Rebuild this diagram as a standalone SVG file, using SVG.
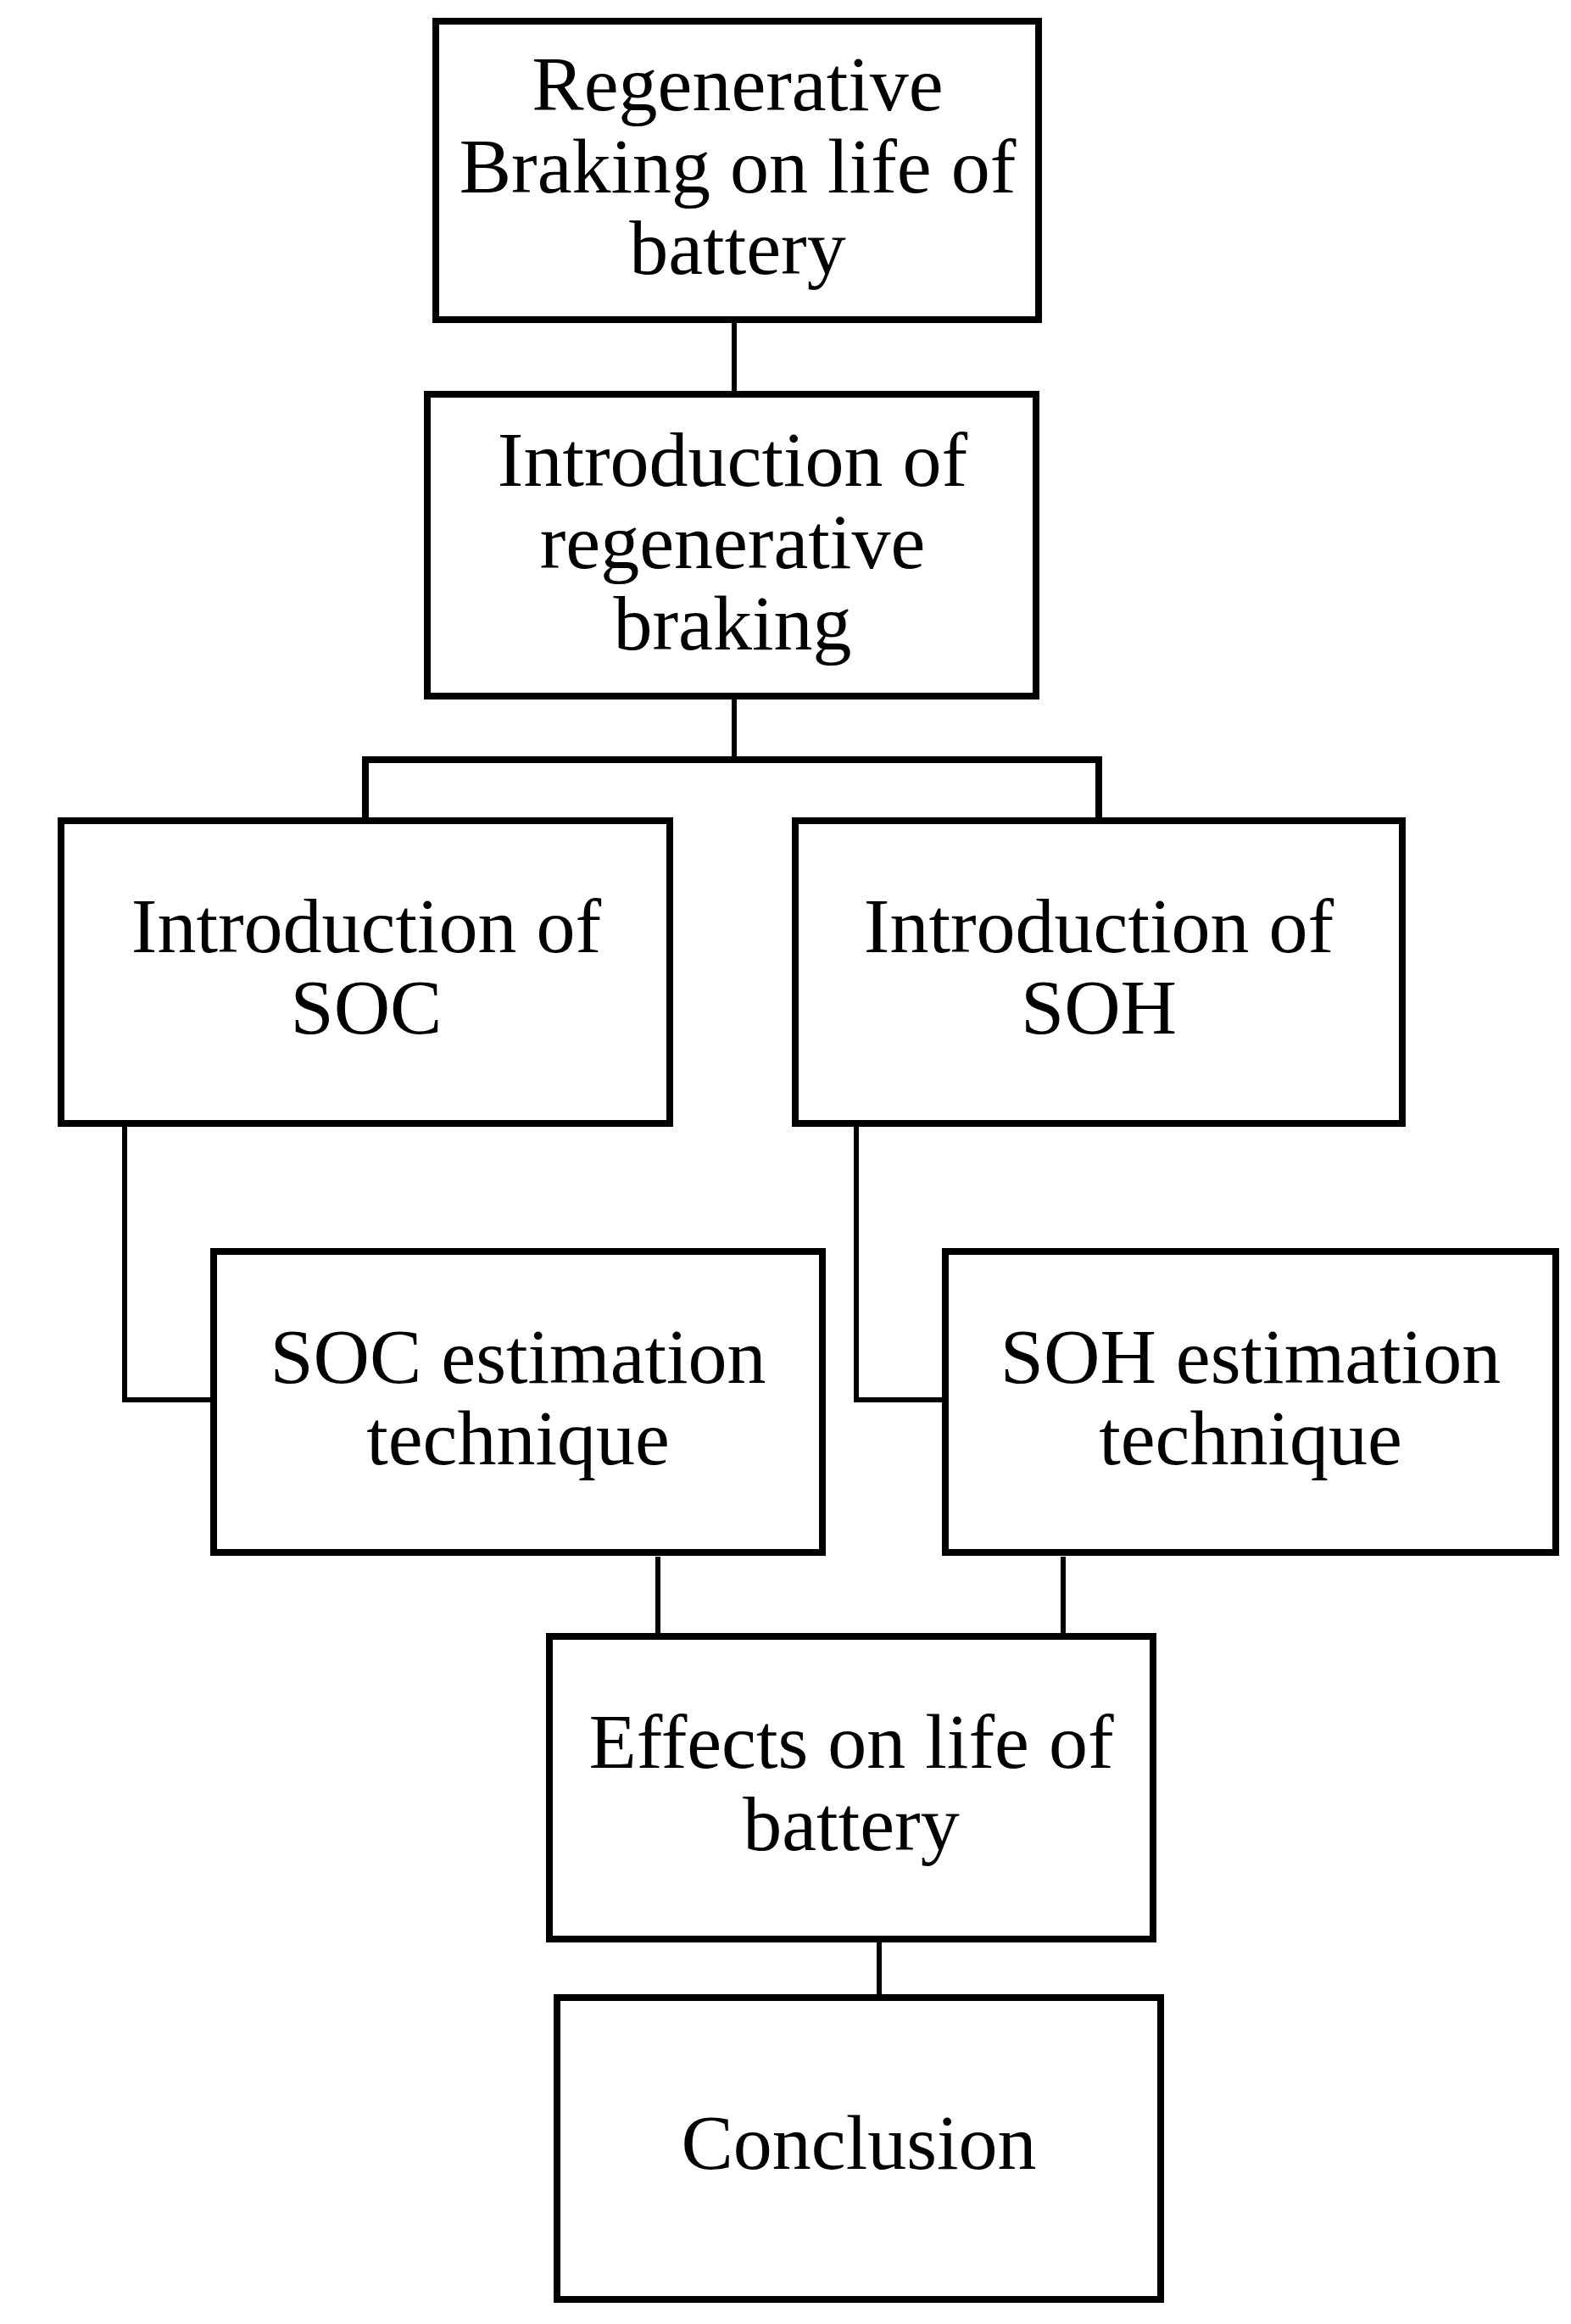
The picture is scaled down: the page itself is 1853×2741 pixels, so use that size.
<svg xmlns="http://www.w3.org/2000/svg" width="1853" height="2741" viewBox="0 0 1853 2741">
<style>
.box{fill:#fff;stroke:#000;stroke-width:8;stroke-linejoin:miter}
.lbl{font-family:"Liberation Serif","Times New Roman",serif;font-size:92px;fill:#000;text-anchor:middle}
.con{fill:none;stroke:#000;stroke-width:6}
.bar{fill:none;stroke:#000;stroke-width:8}
</style>
<rect width="1853" height="2741" fill="#fff"/>
<g id="connectors">
<line class="con" x1="866" y1="377" x2="866" y2="465"/>
<line class="con" x1="866" y1="821" x2="866" y2="896"/>
<polyline class="bar" points="431,968 431,896 1296,896 1296,968"/>
<polyline class="con" points="147,1325 147,1651 252,1651"/>
<polyline class="con" points="1010,1325 1010,1651 1115,1651"/>
<line class="con" x1="776" y1="1836" x2="776" y2="1930"/>
<line class="con" x1="1254" y1="1836" x2="1254" y2="1930"/>
<line class="con" x1="1037" y1="2287" x2="1037" y2="2370"/>
</g>
<g id="n1"><rect class="box" x="514" y="25" width="711" height="352"/>
<text class="lbl" x="870" y="130">Regenerative</text><text class="lbl" x="870" y="227">Braking on life of</text><text class="lbl" x="870" y="323">battery</text></g>
<g id="n2"><rect class="box" x="504" y="465" width="718" height="356"/>
<text class="lbl" x="864" y="573">Introduction of</text><text class="lbl" x="864" y="670">regenerative</text><text class="lbl" x="864" y="766">braking</text></g>
<g id="n3"><rect class="box" x="72" y="968" width="718" height="357"/>
<text class="lbl" x="432" y="1123">Introduction of</text><text class="lbl" x="432" y="1219">SOC</text></g>
<g id="n4"><rect class="box" x="938" y="968" width="716" height="357"/>
<text class="lbl" x="1296" y="1123">Introduction of</text><text class="lbl" x="1296" y="1219">SOH</text></g>
<g id="n5"><rect class="box" x="252" y="1476" width="718" height="355"/>
<text class="lbl" x="611" y="1631">SOC estimation</text><text class="lbl" x="611" y="1727">technique</text></g>
<g id="n6"><rect class="box" x="1115" y="1476" width="720" height="355"/>
<text class="lbl" x="1475" y="1631">SOH estimation</text><text class="lbl" x="1475" y="1727">technique</text></g>
<g id="n7"><rect class="box" x="648" y="1930" width="712" height="357"/>
<text class="lbl" x="1004" y="2085">Effects on life of</text><text class="lbl" x="1004" y="2182">battery</text></g>
<g id="n8"><rect class="box" x="657" y="2356" width="712" height="356"/>
<text class="lbl" x="1013" y="2558">Conclusion</text></g>
</svg>
